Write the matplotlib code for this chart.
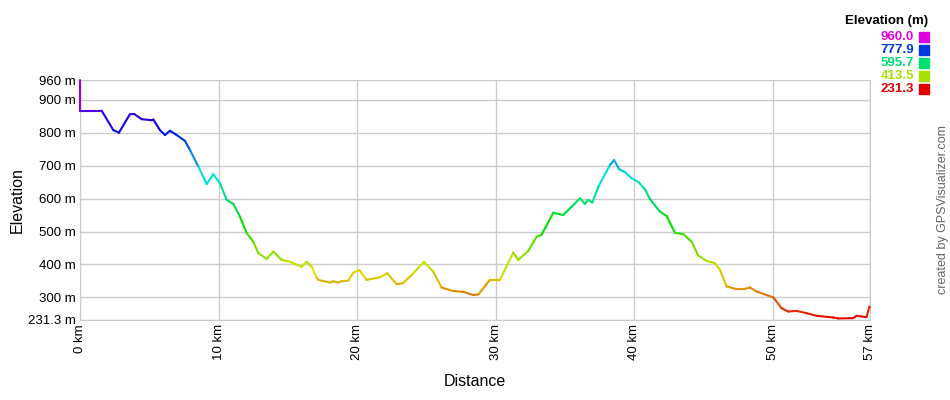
import colorsys

import matplotlib
matplotlib.use("Agg")
import matplotlib.pyplot as plt
import numpy as np
from matplotlib.collections import LineCollection

# ── Profile data (km, m) ────────────────────────────────────────────────
dist_km = [0.0, 0.0, 1.56, 2.4, 2.81, 3.6, 3.9, 4.45, 5.17, 5.29, 5.77, 6.13,
           6.49, 6.97, 7.58, 7.94, 8.54, 9.14, 9.62, 10.1, 10.58, 11.06,
           11.54, 12.03, 12.5, 12.87, 13.47, 13.95, 14.55, 15.15, 15.99,
           16.35, 16.72, 17.07, 17.2, 18.04, 18.28, 18.64, 18.88, 19.36,
           19.72, 20.16, 20.68, 21.64, 22.17, 22.85, 23.3, 24.05, 24.82,
           25.49, 26.09, 26.93, 27.65, 28.38, 28.74, 29.58, 30.3, 31.26,
           31.62, 32.34, 32.95, 33.3, 34.15, 34.87, 35.1, 35.47, 36.07, 36.43,
           36.67, 36.96, 37.4, 38.24, 38.53, 38.91, 39.32, 39.8, 40.3, 40.76,
           41.13, 41.85, 42.33, 42.93, 43.53, 44.13, 44.61, 45.21, 45.81,
           46.18, 46.66, 47.37, 47.9, 48.34, 48.82, 49.54, 50.02, 50.62, 51.1,
           51.7, 52.42, 53.15, 54.35, 54.7, 55.79, 56.03, 56.4, 56.75, 56.96,
           57.0]
elev_m = [960, 867, 867, 808, 800, 856, 857, 841, 838, 840, 808, 793,
          806, 793, 775, 747, 697, 644, 674, 646, 596, 584,
          545, 495, 469, 434, 417, 439, 414, 408, 393,
          408, 393, 360, 353, 345, 349, 345, 349, 351,
          375, 383, 353, 361, 373, 340, 343, 373, 408,
          378, 330, 319, 317, 307, 309, 353, 353, 436,
          414, 441, 484, 490, 557, 550, 560, 575, 601, 584,
          596, 588, 636, 702, 717, 689, 680, 662, 650, 628,
          598, 560, 547, 496, 492, 469, 427, 411, 404,
          383, 333, 325, 325, 330, 318, 307, 300, 267, 257,
          259, 252, 244, 239, 236, 237, 244, 242, 240, 272,
          272]

y_min, y_max = 231.3, 960.0
y_ticks = [231.3, 300, 400, 500, 600, 700, 800, 900, 960]
y_labels = ["231.3 m", "300 m", "400 m", "500 m", "600 m", "700 m",
            "800 m", "900 m", "960 m"]
x_ticks = [0, 10, 20, 30, 40, 50, 57]
x_labels = ["0 km", "10 km", "20 km", "30 km", "40 km", "50 km", "57 km"]
legend_vals = [960.0, 777.9, 595.7, 413.5, 231.3]


def elev_color(e):
    # hue runs red (low) -> magenta (high)
    t = (e - y_min) / (y_max - y_min)
    t = min(max(t, 0.0), 1.0)
    return colorsys.hsv_to_rgb(t * 300 / 360, 1.0, 0.88)


plt.rcParams["font.family"] = ["Liberation Sans", "DejaVu Sans"]

fig = plt.figure(figsize=(9.5, 4), dpi=100)
ax = fig.add_axes([80 / 950, 80 / 400, 790 / 950, 240 / 400])

x = np.array(dist_km)
y = np.array(elev_m, dtype=float)
pts = np.column_stack([x, y]).reshape(-1, 1, 2)
segs = np.concatenate([pts[:-1], pts[1:]], axis=1)
cols = [elev_color((a + b) / 2) for a, b in zip(y[:-1], y[1:])]
lc = LineCollection(segs, colors=cols, linewidths=1.5,
                    capstyle="round", joinstyle="round", zorder=3)
lc.set_clip_on(False)
ax.add_collection(lc)

ax.set_xlim(0, 57)
ax.set_ylim(y_min, y_max)
ax.set_xticks(x_ticks)
ax.set_xticklabels(x_labels, rotation=90, fontsize=9.5)
ax.set_yticks(y_ticks)
ax.set_yticklabels(y_labels, fontsize=9.5)
ax.tick_params(length=0, pad=3)
ax.grid(True, color="#cccccc", linewidth=1)
ax.set_axisbelow(True)
for side in ["top", "right", "left", "bottom"]:
    ax.spines[side].set_color("#cccccc")
ax.set_xlabel("Distance", fontsize=11.5, labelpad=10)
ax.set_ylabel("Elevation", fontsize=11.5, labelpad=2)

# ── Colour legend ─────────────────────────────────────────────────────
fig.text(928 / 950, 1 - 21 / 400, "Elevation (m)", ha="right", va="center",
         fontsize=9.5, fontweight="bold")
for i, v in enumerate(legend_vals):
    yc = 1 - (37 + i * 13) / 400
    c = elev_color(v)
    fig.text(914 / 950, yc, f"{v:.1f}", ha="right", va="center",
             fontsize=9.5, fontweight="bold", color=c)
    fig.patches.append(plt.Rectangle((919 / 950, yc - 5 / 400), 10 / 950,
                                     10 / 400, transform=fig.transFigure,
                                     color=c, figure=fig))

fig.text(943 / 950, 1 - 210 / 400, "created by GPSVisualizer.com",
         rotation=90, ha="center", va="center", fontsize=9, color="#666666")

fig.savefig("out.png", dpi=100)
